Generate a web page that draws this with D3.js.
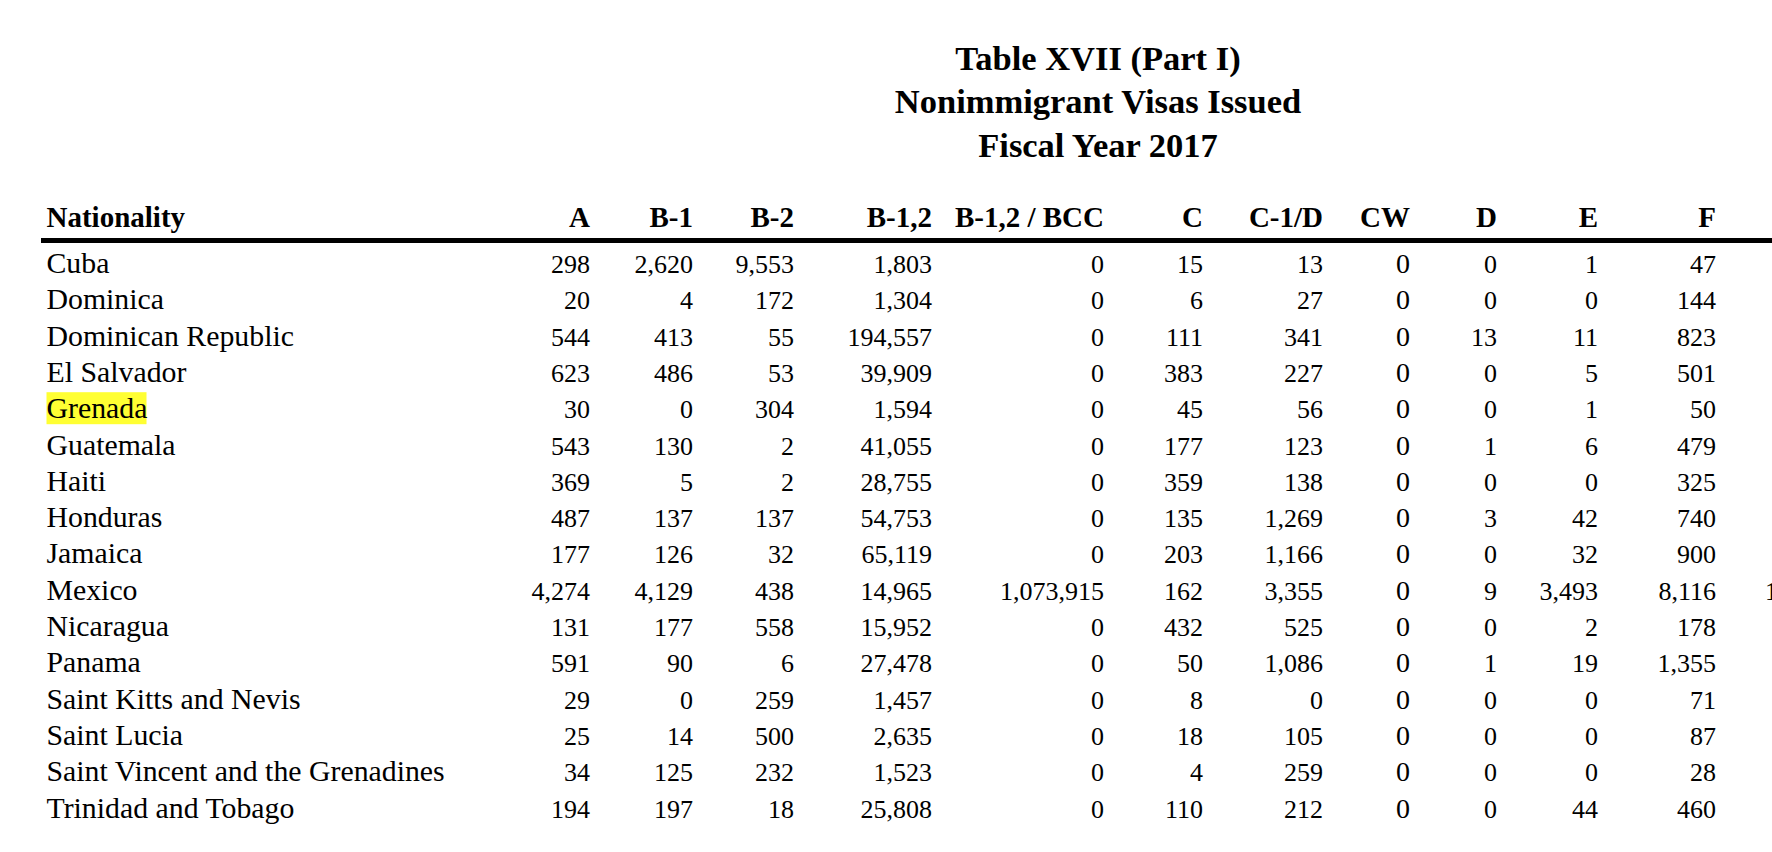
<!DOCTYPE html>
<html>
<head>
<meta charset="utf-8">
<script src="https://cdn.jsdelivr.net/npm/d3@7"></script>
<style>
  body { margin: 0; background: #fff; }
  text { font-family: "Liberation Serif", "Times New Roman", serif; fill: #000; }
  .title { font-weight: bold; font-size: 34.5px; }
  .head { font-weight: bold; font-size: 29px; }
  .name { font-size: 29.8px; }
  .num { font-size: 26px; }
</style>
</head>
<body>
<div class="chart"></div>
<script>
// table data
var titleLines = ["Table XVII (Part I)", "Nonimmigrant Visas Issued", "Fiscal Year 2017"];

var nationalities = ["Cuba", "Dominica", "Dominican Republic", "El Salvador", "Grenada",
  "Guatemala", "Haiti", "Honduras", "Jamaica", "Mexico", "Nicaragua", "Panama",
  "Saint Kitts and Nevis", "Saint Lucia", "Saint Vincent and the Grenadines", "Trinidad and Tobago"];

var highlighted = ["Grenada"];

var visaClasses = ["A", "B-1", "B-2", "B-1,2", "B-1,2 / BCC", "C", "C-1/D", "CW", "D", "E", "F"];

var colA   = [298, 20, 544, 623, 30, 543, 369, 487, 177, 4274, 131, 591, 29, 25, 34, 194];
var colB1  = [2620, 4, 413, 486, 0, 130, 5, 137, 126, 4129, 177, 90, 0, 14, 125, 197];
var colB2  = [9553, 172, 55, 53, 304, 2, 2, 137, 32, 438, 558, 6, 259, 500, 232, 18];
var colB12 = [1803, 1304, 194557, 39909, 1594, 41055, 28755, 54753, 65119, 14965, 15952, 27478, 1457, 2635, 1523, 25808];
var colBCC = [0, 0, 0, 0, 0, 0, 0, 0, 0, 1073915, 0, 0, 0, 0, 0, 0];
var colC   = [15, 6, 111, 383, 45, 177, 359, 135, 203, 162, 432, 50, 8, 18, 4, 110];
var colC1D = [13, 27, 341, 227, 56, 123, 138, 1269, 1166, 3355, 525, 1086, 0, 105, 259, 212];
var colCW  = [0, 0, 0, 0, 0, 0, 0, 0, 0, 0, 0, 0, 0, 0, 0, 0];
var colD   = [0, 0, 13, 0, 0, 1, 0, 3, 0, 9, 0, 1, 0, 0, 0, 0];
var colE   = [1, 0, 11, 5, 1, 6, 0, 42, 32, 3493, 2, 19, 0, 0, 0, 44];
var colF   = [47, 144, 823, 501, 50, 479, 325, 740, 900, 8116, 178, 1355, 71, 87, 28, 460];

// next column is cut off by the page edge, only the first digit of Mexico shows
var colCutOff = [null, null, null, null, null, null, null, null, null, "1", null, null, null, null, null, null];

var columns = [colA, colB1, colB2, colB12, colBCC, colC, colC1D, colCW, colD, colE, colF];

var width = 1772, height = 852;

var svg = d3.select(".chart").append("svg")
  .attr("width", width)
  .attr("height", height);

// right edges of the number columns
var x = d3.scaleOrdinal()
  .domain(visaClasses.concat(["next"]))
  .range([590, 693, 794, 932, 1104, 1203, 1323, 1410, 1497, 1598, 1716, 1765]);

var y = d3.scalePoint()
  .domain(nationalities)
  .range([273, 817.5]);

var nameX = 46.5;
var fmt = d3.format(",");

// title
svg.append("g").selectAll("text")
  .data(titleLines)
  .enter().append("text")
  .attr("class", "title")
  .attr("x", 1098)
  .attr("y", (d, i) => 70 + i * 43.3)
  .attr("text-anchor", "middle")
  .text(d => d);

// header
var head = svg.append("g");
head.append("text")
  .attr("class", "head")
  .attr("x", nameX)
  .attr("y", 226.5)
  .text("Nationality");

head.selectAll(".colhead")
  .data(visaClasses)
  .enter().append("text")
  .attr("class", "head colhead")
  .attr("x", d => x(d))
  .attr("y", 226.5)
  .attr("text-anchor", "end")
  .text(d => d);

svg.append("line")
  .attr("x1", 41)
  .attr("x2", width)
  .attr("y1", 240.5)
  .attr("y2", 240.5)
  .attr("stroke", "#000")
  .attr("stroke-width", 5);

// highlight marker behind Grenada
svg.append("g").selectAll("rect")
  .data(highlighted)
  .enter().append("rect")
  .attr("x", nameX)
  .attr("y", d => y(d) - 26)
  .attr("width", 100)
  .attr("height", 32)
  .attr("fill", "#ffff33");

// nationality names
svg.append("g").selectAll("text")
  .data(nationalities)
  .enter().append("text")
  .attr("class", "name")
  .attr("x", nameX)
  .attr("y", d => y(d))
  .text(d => d);

// number cells
var cells = [];
columns.forEach(function(col, j) {
  col.forEach(function(v, i) {
    cells.push({ key: visaClasses[j], row: nationalities[i], value: v });
  });
});

svg.append("g").selectAll("text")
  .data(cells)
  .enter().append("text")
  .attr("class", "num")
  .attr("x", d => x(d.key))
  .attr("y", d => y(d.row))
  .attr("text-anchor", "end")
  .style("font-size", d => d.key === "CW" ? "28px" : null)
  .text(d => fmt(d.value));

svg.append("g").selectAll("text")
  .data(nationalities.map((n, i) => ({ row: n, value: colCutOff[i] })).filter(d => d.value))
  .enter().append("text")
  .attr("class", "num")
  .attr("x", x("next"))
  .attr("y", d => y(d.row))
  .text(d => d.value);
</script>
</body>
</html>
